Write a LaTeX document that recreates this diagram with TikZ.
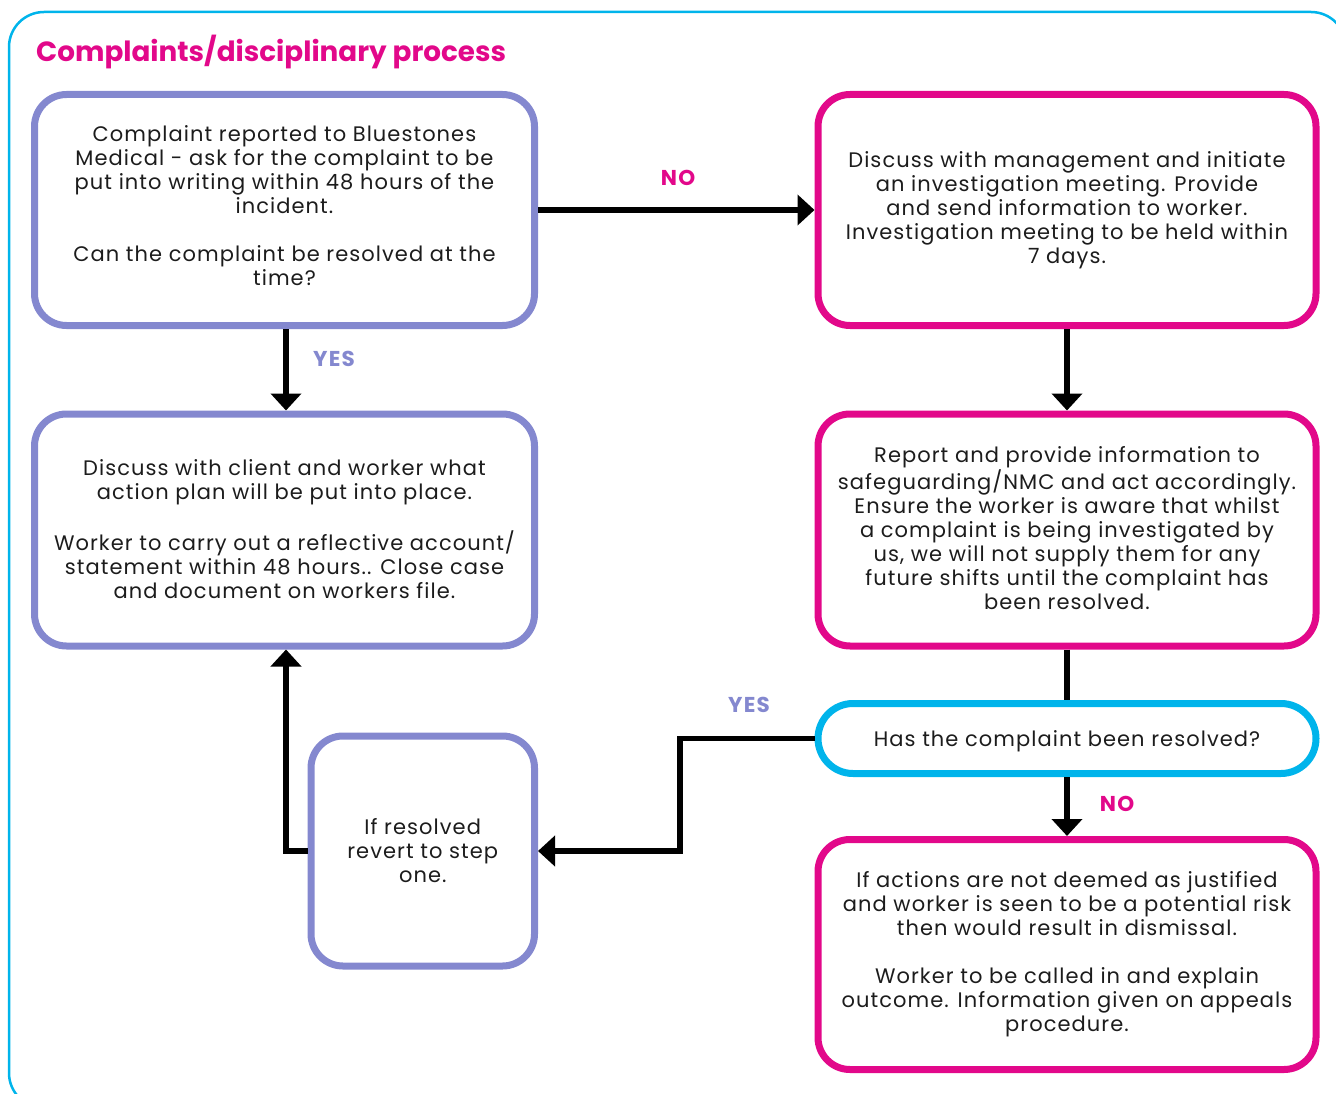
\documentclass[tikz,border=0pt]{standalone}
\usepackage{fontspec}
\setmainfont{Poppins}
\newfontfamily\bodyfont{Poppins}[LetterSpace=5]
\newfontfamily\lblfont{Poppins}[LetterSpace=6]
\usetikzlibrary{arrows.meta}
\definecolor{lav}{HTML}{8488CF}
\definecolor{mag}{HTML}{E2088A}
\definecolor{cy}{HTML}{00B4EB}
\definecolor{ink}{HTML}{1C1C1C}
\tikzset{
  box/.style={draw, line width=7pt, rounded corners=32pt, minimum width=500pt, minimum height=231pt,
    align=center, inner sep=0pt, text=ink, font=\bodyfont\fontsize{21}{24}\selectfont},
  lavbox/.style={box, draw=lav},
  magbox/.style={box, draw=mag},
  conn/.style={line width=5.5pt, black, -{Triangle[length=17pt,width=30pt]}},
  plain/.style={line width=5.5pt, black},
  lbl/.style={font=\lblfont\fontsize{21.5}{24}\selectfont\bfseries, inner sep=0pt},
}
\begin{document}
\begin{tikzpicture}[x=1pt,y=-1pt]
\useasboundingbox (0,0) rectangle (1336,1094);
\begin{scope}
\clip (0,0) rectangle (1336,1094);
\draw[cy, line width=2.5pt, rounded corners=35pt] (9,12) rectangle (1346,1108);
\end{scope}
\node[anchor=base west, text=mag, font=\fontsize{27.8}{30}\selectfont\bfseries, inner sep=0pt] (title) at (36,62) {Complaints/disciplinary process};

\node[lavbox, text depth=8pt] (b1) at (284.5,210) {Complaint reported to Bluestones\\ Medical - ask for the complaint to be\\ put into writing within 48 hours of the\\ incident.\\[24pt] Can the complaint be resolved at the\\ time?};
\node[magbox, minimum width=498pt] (b2) at (1067,210) {Discuss with management and initiate\\ an investigation meeting. Provide\\ and send information to worker.\\ Investigation meeting to be held within\\ 7 days.};
\node[lavbox, minimum height=232pt, text depth=2pt] (b3) at (284.5,530) {Discuss with client and worker what\\ action plan will be put into place.\\[24pt] Worker to carry out a reflective account/\\ statement within 48 hours.. Close case\\ and document on workers file.};
\node[magbox, minimum width=498pt, minimum height=232pt, text depth=4pt] (b4) at (1067,530) {Report and provide information to\\ safeguarding/NMC and act accordingly.\\ Ensure the worker is aware that whilst\\ a complaint is being investigated by\\ us, we will not supply them for any\\ future shifts until the complaint has\\ been resolved.};
\node[box, draw=cy, minimum width=498pt, minimum height=70pt, rounded corners=35pt, text depth=0pt] (b5) at (1067,738.5) {Has the complaint been resolved?};
\node[magbox, minimum width=498pt, minimum height=230pt] (b6) at (1067,954.5) {If actions are not deemed as justified\\ and worker is seen to be a potential risk\\ then would result in dismissal.\\[24pt] Worker to be called in and explain\\ outcome. Information given on appeals\\ procedure.};
\node[lavbox, minimum width=223.5pt, minimum height=230pt] (b7) at (422.75,851) {If resolved\\ revert to step\\ one.};

\draw[conn] (b1.east) -- (b2.west);
\node[lbl, text=mag] (lno1) at (678,178) {NO};
\draw[conn] ([xshift=1.5pt]b1.south) -- ([xshift=1.5pt]b3.north);
\node[lbl, text=lav] (lyes1) at (334,359) {YES};
\draw[conn] (b2.south) -- (b4.north);
\draw[plain] (b4.south) -- (b5.north);
\draw[conn] (b5.south) -- (b6.north);
\node[lbl, text=mag] (lno2) at (1117,804) {NO};
\coordinate (c1) at (680,0);
\draw[conn] (b5.west) -- (c1 |- b5.west) -- (c1 |- b7.east) -- (b7.east);
\node[lbl, text=lav] (lyes2) at (749,705) {YES};
\coordinate (c2) at (286,0);
\draw[conn] (b7.west) -- (c2 |- b7.west) -- (c2 |- b3.south);
\end{tikzpicture}
\end{document}
